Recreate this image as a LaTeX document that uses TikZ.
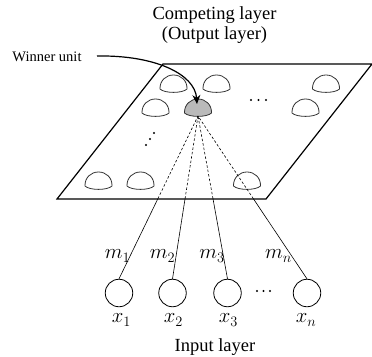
\documentclass[tikz,border=0pt]{standalone}
\usepackage{fontspec}
\setmainfont{Liberation Serif}
\usetikzlibrary{arrows.meta,calc}
\tikzset{
  plane/.style={line width=1.2pt, line join=miter},
  unitdome/.style={line width=0.8pt, draw=black!80},
  winfill/.style={fill=black!27},
  conn/.style={line width=0.6pt},
  dconn/.style={line width=0.6pt, dash pattern=on 2.5pt off 2pt},
  inpt/.style={circle, draw, line width=0.8pt, minimum size=27.5pt, inner sep=0pt},
  biglbl/.style={inner sep=0pt, font=\fontsize{18.5}{20}\selectfont, align=center},
  smalllbl/.style={inner sep=0pt, font=\fontsize{14.5}{16}\selectfont},
  mathlbl/.style={inner sep=0pt, font=\fontsize{21}{23}\selectfont},
  dotmark/.style={fill=black, draw=none},
  pointer/.style={line width=1.2pt, -{Stealth[length=9pt,width=8pt]}},
  pics/dome/.style={code={
    \draw[unitdome,#1] (-13.5,0) .. controls (-13.8,-8.5) and (-7.5,-14) .. (0,-14)
      .. controls (7.5,-14) and (13.8,-8.5) .. (13.5,0)
      .. controls (9,4.5) and (-9,4.5) .. cycle;}},
  pics/dome/.default={}
}
\begin{document}
\begin{tikzpicture}[x=1pt,y=-1pt]
\useasboundingbox (0,0) rectangle (372,356);

% titles
\node[biglbl] (title) at (214.5,25) {Competing layer\\(Output layer)};
\node[biglbl] (inlayer) at (215,347) {Input layer};
\node[smalllbl] (wu) at (47,57) {Winner unit};

% plane
\coordinate (p1) at (163,64);
\coordinate (p2) at (372,64);
\coordinate (p3) at (266,199);
\coordinate (p4) at (57,199);
\draw[plane] (p1) -- (p2) -- (p3) -- (p4) -- cycle;

% units on the plane
\pic at (173.5,89) {dome};
\pic at (216.5,89) {dome};
\pic at (326,89) {dome};
\pic at (155.5,113) {dome};
\pic at (198,113) {dome=winfill};
\pic at (305.5,113) {dome};
\pic at (98.5,186) {dome};
\pic at (140.5,186) {dome};
\pic at (247,186) {dome};

% dots on the plane
\fill[dotmark] (251,100) circle (1.2) (258.5,100) circle (1.2) (266,100) circle (1.2);
\fill[dotmark] (154,133) circle (1.2) (150,139) circle (1.2) (146,145) circle (1.2);

% input units
\node[inpt] (x1) at (119,293) {};
\node[inpt] (x2) at (172.5,293) {};
\node[inpt] (x3) at (227.5,293) {};
\node[inpt] (xn) at (307,293) {};
\fill[dotmark] (257,291) circle (1.2) (263.5,291) circle (1.2) (270,291) circle (1.2);

\node[mathlbl] (lx1) at (121.5,320) {$x_1$};
\node[mathlbl] (lx2) at (173.5,320) {$x_2$};
\node[mathlbl] (lx3) at (228.5,320) {$x_3$};
\node[mathlbl] (lxn) at (306,320) {$x_n$};

\node[mathlbl] (m1) at (117.5,256) {$m_1$};
\node[mathlbl] (m2) at (162.5,256) {$m_2$};
\node[mathlbl] (m3) at (212,256) {$m_3$};
\node[mathlbl] (mn) at (278.5,256) {$m_n$};

% connections to winner
\coordinate (W) at (198,116);
\foreach \i in {x1,x2,x3,xn}{
  \coordinate (b\i) at ($(\i.north)!0.492!(W)$);
  \draw[conn] (\i.north) -- (b\i);
  \draw[dconn] (b\i) -- (W);
}

% pointer to winner
\coordinate (as) at (97,56);
\coordinate (wt) at (197,104);
\draw[pointer] (as) .. controls (155,55) and (195,74) .. (wt);
\end{tikzpicture}
\end{document}
